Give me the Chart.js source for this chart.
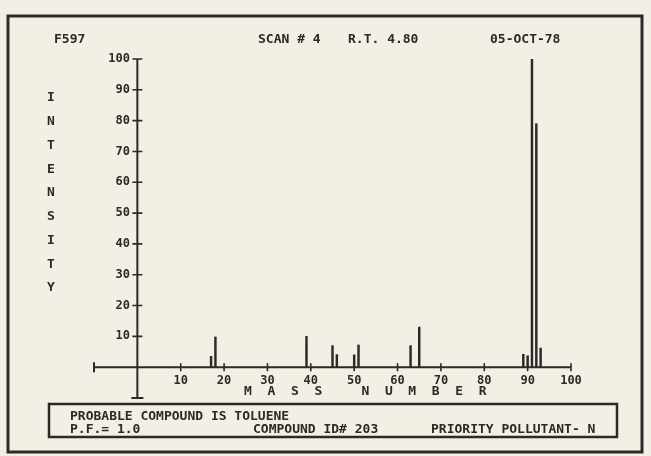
<!DOCTYPE html>
<html>
<head>
<meta charset="utf-8">
<script src="https://cdn.jsdelivr.net/npm/chart.js@4/dist/chart.umd.min.js"></script>
<style>
  html, body { margin: 0; padding: 0; background: #f3efe5; }
  canvas { display: block; }
</style>
</head>
<body>
<canvas id="massSpec" width="651" height="456"></canvas>
<script>
// mass spectrum
const massNumbers = [17, 18, 39, 45, 46, 50, 51, 63, 65, 89, 90, 91, 92, 93];
const intensities = [3.5, 9.8, 10, 7, 4.1, 4, 7.2, 7, 13, 4.2, 3.7, 100, 79, 6.2];
const tickValues = [10, 20, 30, 40, 50, 60, 70, 80, 90, 100];

const headerTexts = ['F597', 'SCAN # 4', 'R.T. 4.80', '05-OCT-78'];
const yTitle = 'INTENSITY';
const xTitle = 'M  A  S  S     N  U  M  B  E  R';
const footerLine1 = 'PROBABLE COMPOUND IS TOLUENE';
const footerLine2 = ['P.F.= 1.0', 'COMPOUND ID# 203', 'PRIORITY POLLUTANT- N'];

const INK = '#2b2a28';
const MONO = '"DejaVu Sans Mono", "Liberation Mono", monospace';

const plotterDecor = {
    id: 'plotterDecor',
    beforeDraw(chart) {
        const ctx = chart.ctx;
        ctx.save();
        ctx.fillStyle = '#f3efe5';
        ctx.fillRect(0, 0, chart.width, chart.height);
        ctx.restore();
    },
    afterDraw(chart) {
        const ctx = chart.ctx;
        const xs = chart.scales.x;
        const ys = chart.scales.y;
        const x0 = xs.getPixelForValue(0);
        const y0 = ys.getPixelForValue(0);

        ctx.save();
        ctx.strokeStyle = INK;
        ctx.fillStyle = INK;

        // axes
        ctx.lineWidth = 2;
        ctx.beginPath();
        ctx.moveTo(xs.getPixelForValue(-10), y0);
        ctx.lineTo(xs.getPixelForValue(100), y0);
        ctx.moveTo(x0, ys.getPixelForValue(-10));
        ctx.lineTo(x0, ys.getPixelForValue(100));
        // end caps
        const xl = xs.getPixelForValue(-10);
        ctx.moveTo(xl, y0 - 5);
        ctx.lineTo(xl, y0 + 5);
        const yb = ys.getPixelForValue(-10);
        ctx.moveTo(x0 - 6, yb);
        ctx.lineTo(x0 + 6, yb);
        ctx.stroke();

        // tick crosses
        ctx.lineWidth = 1.6;
        ctx.beginPath();
        tickValues.forEach(v => {
            const px = xs.getPixelForValue(v);
            ctx.moveTo(px, y0 - 4);
            ctx.lineTo(px, y0 + 4);
            const py = ys.getPixelForValue(v);
            ctx.moveTo(x0 - 5, py);
            ctx.lineTo(x0 + 5, py);
        });
        ctx.stroke();

        // outer frame
        ctx.lineWidth = 3;
        ctx.strokeRect(8, 16, 634, 436);

        // header
        ctx.font = 'bold 13px ' + MONO;
        ctx.textBaseline = 'middle';
        ctx.textAlign = 'left';
        const headerX = [54, 258, 348, 490];
        headerTexts.forEach((t, i) => ctx.fillText(t, headerX[i], 40));

        // y title, one letter per line
        ctx.textAlign = 'center';
        yTitle.split('').forEach((ch, i) => ctx.fillText(ch, 51, 98 + i * 23.75));

        // x title
        ctx.textAlign = 'left';
        ctx.fillText(xTitle, 244, 392);

        // footer box
        ctx.lineWidth = 2.5;
        ctx.strokeRect(49, 404, 568, 33);
        ctx.fillText(footerLine1, 70, 416.5);
        const footX = [70, 253, 431];
        footerLine2.forEach((t, i) => ctx.fillText(t, footX[i], 429.5));

        ctx.restore();
    }
};

new Chart(document.getElementById('massSpec'), {
    type: 'bar',
    data: {
        datasets: [{
            data: massNumbers.map((m, i) => ({x: m, y: intensities[i]})),
            backgroundColor: INK,
            borderWidth: 0,
            barThickness: 1.8
        }]
    },
    options: {
        responsive: false,
        animation: false,
        layout: {
            padding: {left: 94, right: 80, top: 59, bottom: 58}
        },
        plugins: {
            legend: {display: false},
            tooltip: {enabled: false}
        },
        scales: {
            x: {
                type: 'linear',
                min: -10,
                max: 100,
                offset: false,
                position: {y: 0},
                afterFit: s => {
                    s.height = 0;
                    s.paddingLeft = 0;
                    s.paddingRight = 0;
                },
                grid: {display: false, drawTicks: false},
                border: {display: false},
                ticks: {
                    stepSize: 10,
                    autoSkip: false,
                    maxRotation: 0,
                    padding: 6,
                    color: INK,
                    font: {family: MONO, size: 12, weight: 'bold'},
                    callback: v => (v > 0 ? String(v) : '')
                }
            },
            y: {
                min: -10,
                max: 100,
                // labels sit right-aligned on this value, a little left of the drawn axis
                position: {x: -1.7},
                afterFit: s => {
                    s.width = 0;
                    s.paddingTop = 0;
                    s.paddingBottom = 0;
                },
                grid: {display: false, drawTicks: false},
                border: {display: false},
                ticks: {
                    stepSize: 10,
                    autoSkip: false,
                    color: INK,
                    font: {family: MONO, size: 12, weight: 'bold'},
                    callback: v => (v > 0 ? String(v) : '')
                }
            }
        }
    },
    plugins: [plotterDecor]
});
</script>
</body>
</html>
